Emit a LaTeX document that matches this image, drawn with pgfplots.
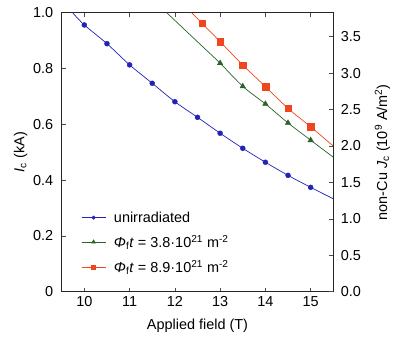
\documentclass[border=0pt]{standalone}
\usepackage{fontspec}
\setmainfont{Liberation Sans}
\usepackage{pgfplots}
\pgfplotsset{compat=1.18}
\definecolor{cblue}{RGB}{34,34,180}
\definecolor{cgreen}{RGB}{40,100,40}
\definecolor{cred}{RGB}{240,70,30}
\begin{document}
\begin{tikzpicture}[font=\fontsize{14.5}{17}\selectfont]
\begin{axis}[
  at={(0,0)}, anchor=south west,
  scale only axis, width=271.6bp, height=279bp,
  xmin=9.5, xmax=15.5, ymin=0, ymax=1.0,
  xtick={10,11,12,13,14,15},
  ytick={0,0.2,0.4,0.6,0.8,1.0},
  yticklabels={0,0.2,0.4,0.6,0.8,1.0},
  tick align=inside, major tick length=4bp,
  xtick pos=both, ytick pos=left,
  axis line style={line width=1.2bp, black!85},
  tick style={line width=0.6bp, black!70},
  /pgf/number format/assume math mode=true,
  yticklabel style={xshift=-5bp},
  xticklabel style={yshift=-1bp},
  xlabel={Applied field (T)},
  ylabel={\textit{I}\textsubscript{c} (kA)},
  xlabel style={yshift=-6bp},
  ylabel style={yshift=-1bp},
  legend style={draw=none, fill=none, at={(0.06,0.175)}, anchor=west, row sep=7.5bp, font=\fontsize{14.5}{17}\selectfont},
  legend cell align=left,
  legend image code/.code={\draw[#1] (0cm,0cm) -- (0.85cm,0cm); \draw[#1, mark repeat=2, mark phase=2] plot coordinates {(0cm,0cm) (0.425cm,0cm) (0.85cm,0cm)};},
]
% fitted lines
\addplot[cblue, line width=0.7bp, smooth, forget plot] coordinates {
 (9.74,1.0) (10,0.956) (10.5,0.889) (11,0.813) (11.5,0.747) (12,0.681) (12.5,0.625) (13,0.568) (13.5,0.514) (14,0.464) (14.5,0.417) (15,0.374) (15.5,0.333)};
\addplot[cgreen, line width=0.7bp, smooth, forget plot] coordinates {
 (11.82,1.0) (12.55,0.888) (13,0.819) (13.5,0.736) (14,0.673) (14.5,0.605) (15,0.543) (15.5,0.482)};
\addplot[cred, line width=0.7bp, smooth, forget plot] coordinates {
 (12.37,1.0) (12.6,0.962) (13,0.896) (13.5,0.8125) (14,0.735) (14.5,0.657) (15,0.591) (15.5,0.522)};
% data markers
\addplot[only marks, cblue, mark=*, mark size=2.5bp, forget plot] coordinates {
 (10,0.956) (10.5,0.889) (11,0.813) (11.5,0.747) (12,0.681) (12.5,0.625) (13,0.568) (13.5,0.514) (14,0.464) (14.5,0.417) (15,0.374)};
\addplot[only marks, cgreen, mark=triangle*, mark size=3.2bp, forget plot] coordinates {
 (13,0.819) (13.5,0.736) (14,0.673) (14.5,0.605) (15,0.543)};
\addplot[only marks, cred, mark=square*, mark size=3.3bp, forget plot] coordinates {
 (12.6,0.962) (13,0.896) (13.5,0.8125) (14,0.735) (14.5,0.657) (15,0.591)};
\addlegendimage{cblue, line width=0.7bp, mark=*, mark size=1.6bp}
\addlegendentry{\hspace{6bp}unirradiated}
\addlegendimage{cgreen, line width=0.7bp, mark=triangle*, mark size=2bp}
\addlegendentry{\hspace{6bp}\textit{Φ}\textsubscript{f}\textit{t} = 3.8·10\textsuperscript{21} m\textsuperscript{-2}}
\addlegendimage{cred, line width=0.7bp, mark=square*, mark size=1.8bp}
\addlegendentry{\hspace{6bp}\textit{Φ}\textsubscript{f}\textit{t} = 8.9·10\textsuperscript{21} m\textsuperscript{-2}}
\end{axis}
\begin{axis}[
  at={(0,0)}, anchor=south west,
  scale only axis, width=271.6bp, height=279bp,
  xmin=9.5, xmax=15.5, ymin=0, ymax=3.829,
  axis x line=none, axis y line*=right,
  ytick={0,0.5,1,1.5,2,2.5,3,3.5},
  yticklabel style={xshift=4bp, /pgf/number format/.cd, fixed, fixed zerofill, precision=1},
  tick align=inside, major tick length=4bp,
  axis line style={line width=1.2bp, black!85},
  tick style={line width=0.6bp, black!70},
  /pgf/number format/assume math mode=true,
  ylabel={non-Cu \textit{J}\textsubscript{c} (10\textsuperscript{9} A/m\textsuperscript{2})},
  ylabel style={yshift=-7bp},
]
\addplot[draw=none] coordinates {(10,0)};
\end{axis}
\pgfresetboundingbox
\path[use as bounding box] (-61.7bp,-49.3bp) rectangle (333.3bp,291.7bp);
\end{tikzpicture}
\end{document}
